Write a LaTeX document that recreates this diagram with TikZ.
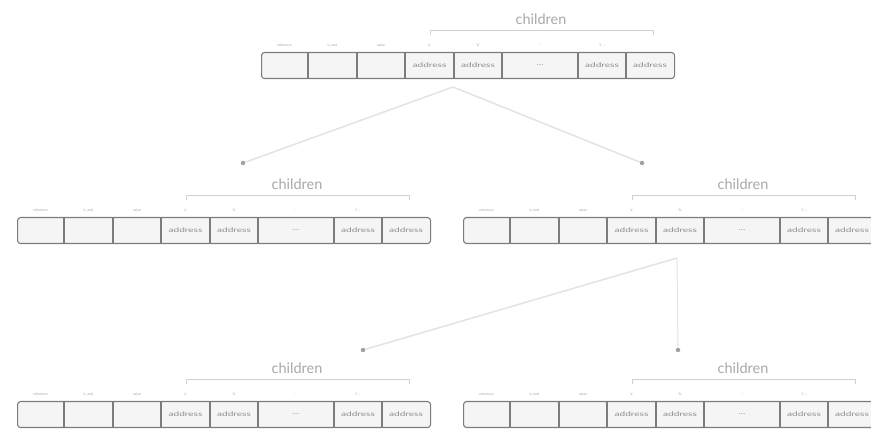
\documentclass[tikz,border=0pt]{standalone}
\usepackage{fontspec}
\setmainfont{Lato}
\definecolor{boxline}{HTML}{7C7C7C}
\definecolor{boxfill}{HTML}{F5F5F5}
\definecolor{txtgray}{HTML}{8E8E8E}
\definecolor{kidgray}{HTML}{A8A8A8}
\definecolor{conngray}{HTML}{E4E4E4}
\definecolor{dotgray}{HTML}{A0A0A0}
\tikzset{
  recbox/.style={draw=boxline, line width=1.1pt, fill=boxfill, rounded corners=3pt, inner sep=0pt, anchor=north west},
  sepline/.style={draw=boxline, line width=1.4pt},
  celltxt/.style={text=txtgray, inner sep=0pt, font=\fontsize{6.5}{7}\selectfont},
  toplbl/.style={text=txtgray!80, inner sep=0pt, font=\fontsize{3.5}{4}\selectfont},
  kidtxt/.style={text=kidgray, inner sep=0pt, font=\fontsize{14.5}{15}\selectfont},
  bracket/.style={draw=conngray!80!gray, line width=0.8pt},
  conn/.style={draw=conngray, line width=1.6pt},
  dotnode/.style={circle, fill=dotgray, inner sep=0pt, minimum size=4.5pt}
}
\newcommand\trierec[3]{%
  \begin{scope}[shift={(#2,#3)}]
    \node[recbox, minimum width=413pt, minimum height=26pt] (#1) at (0,0) {};
    \foreach \a/\b/\lab/\inn [count=\i] in {0/47/{reference}/{},47/96/{is\_end}/{},96/144/{value}/{},144/193/{'a'}/{address},193/241/{'b'}/{address},241/317/{...}/{...},317/365/{'z'\ ...}/{address},365/413/{}/{address}}{
      \ifnum\i<8 \draw[sepline] (\b,0) -- (\b,26);\fi
      \node[celltxt] (#1-c\i) at ({(\a+\b)/2},13) {\scalebox{1.55}[1]{\inn}};
      \node[toplbl] (#1-l\i) at ({(\a+\b)/2},-7) {\lab};
    }
    \node[kidtxt] (#1-kids) at (280,-33) {children};
    \draw[bracket] (169,-17) -- (169,-22) -- (392,-22) -- (392,-17);
  \end{scope}}
\begin{document}
\begin{tikzpicture}[x=1pt,y=-1pt]
  \useasboundingbox (0,0) rectangle (871,435);
  \clip (0,0) rectangle (871,435);
  \trierec{root}{261}{52}
  \trierec{l2a}{17}{217}
  \trierec{l2b}{463}{217}
  \trierec{l3a}{17}{401}
  \trierec{l3b}{463}{401}
  \coordinate (rootout) at (453,87);
  \coordinate (l2bout) at (677,258);
  \node[dotnode] (d1) at (243,163) {};
  \node[dotnode] (d2) at (642,163) {};
  \node[dotnode] (d3) at (363,350) {};
  \node[dotnode] (d4) at (678,350) {};
  \draw[conn] (rootout) -- (d1);
  \draw[conn] (rootout) -- (d2);
  \draw[conn] (l2bout) -- (d3);
  \draw[conn, line width=1pt] (l2bout) -- (d4);
\end{tikzpicture}
\end{document}
